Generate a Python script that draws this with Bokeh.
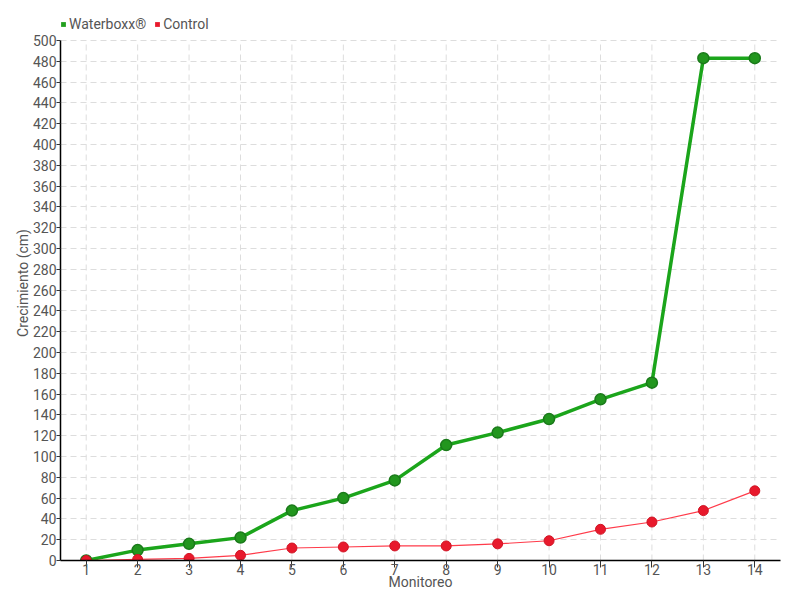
from bokeh.plotting import figure
from bokeh.models import ColumnDataSource, Legend, LegendItem, FixedTicker, Range1d
from bokeh.embed import file_html
from bokeh.resources import INLINE

monitoreo = list(range(1, 15))
waterboxx = [0, 10, 16, 22, 48, 60, 77, 111, 123, 136, 155, 171, 483, 483]
control = [0, 1, 2, 5, 12, 13, 14, 14, 16, 19, 30, 37, 48, 67]
y_ticks = list(range(0, 501, 20))

FONT = "Roboto"
TXT = "#555555"
Y_MAX = 500
PX_PER_UNIT = 520 / Y_MAX
TOP_PAD = 5

src = ColumnDataSource(dict(x=monitoreo, w=waterboxx, c=control))

p = figure(width=800, height=600, output_backend="svg", toolbar_location=None,
           x_range=Range1d(0.5, 14.5),
           y_range=Range1d(0, (560 - TOP_PAD) / PX_PER_UNIT),
           min_border_left=60, min_border_right=20, min_border_top=TOP_PAD,
           min_border_bottom=40)
p.outline_line_color = None
p.background_fill_color = "white"

for ax in (p.xaxis[0], p.yaxis[0]):
    ax.axis_line_color = "black"
    ax.axis_line_width = 1.5
    ax.major_tick_line_color = "#333333"
    ax.major_tick_in = 0
    ax.major_tick_out = 4
    ax.minor_tick_line_color = None
    ax.major_label_text_font = FONT
    ax.major_label_text_font_size = "14px"
    ax.major_label_text_color = TXT
    ax.axis_label_text_font = FONT
    ax.axis_label_text_font_size = "14px"
    ax.axis_label_text_color = TXT
    ax.axis_label_text_font_style = "normal"

p.yaxis.bounds = (0, Y_MAX)
p.yaxis.major_label_standoff = 0
p.yaxis.axis_label_standoff = -1
p.xaxis.major_label_standoff = -4
p.xaxis.major_tick_out = 7
p.xaxis.axis_label_standoff = -4

p.xaxis.ticker = FixedTicker(ticks=monitoreo)
p.yaxis.ticker = FixedTicker(ticks=y_ticks)
p.xaxis.axis_label = "Monitoreo"
p.yaxis.axis_label = "Crecimiento (cm)"

p.xgrid.visible = False
p.ygrid.grid_line_color = "#dddddd"
p.ygrid.grid_line_dash = "6 4"
p.ygrid.grid_line_width = 1
p.segment(x0=monitoreo, y0=[0] * len(monitoreo), x1=monitoreo,
          y1=[Y_MAX] * len(monitoreo), line_color="#dddddd",
          line_dash="6 4", line_width=1)

gl = p.line("x", "w", source=src, line_color="#1ba51b", line_width=3.5)
gm = p.scatter("x", "w", source=src, size=11, fill_color="#22961e",
               line_color="#1a7a1a", line_width=1.5)
rl = p.line("x", "c", source=src, line_color="#ff3b4a", line_width=1.2)
rm = p.scatter("x", "c", source=src, size=10, fill_color="#e8192c",
               line_color="#d01525", line_width=1)

gsq = p.quad(left=[1], right=[1], bottom=[0], top=[0], fill_color="#22a01e",
             line_color=None, visible=False)
rsq = p.quad(left=[1], right=[1], bottom=[0], top=[0], fill_color="#e8192c",
             line_color=None, visible=False)

legend = Legend(items=[LegendItem(label="Waterboxx®", renderers=[gsq]),
                       LegendItem(label="Control", renderers=[rsq])],
                orientation="horizontal", location=(0, 528),
                glyph_width=6, glyph_height=6, label_standoff=3, spacing=8,
                padding=0, margin=0, border_line_color=None,
                background_fill_alpha=0, label_height=14,
                label_text_font=FONT, label_text_font_size="14px",
                label_text_color=TXT)
p.add_layout(legend, "center")

open("out.html", "w").write(file_html(p, INLINE))
